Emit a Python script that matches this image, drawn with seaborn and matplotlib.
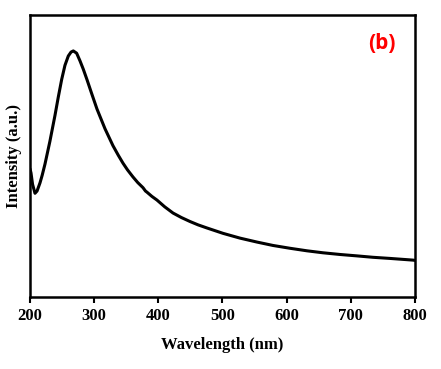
import numpy as np
import pandas as pd
import matplotlib
matplotlib.use("Agg")
import matplotlib.pyplot as plt
import seaborn as sns

# absorbance spectrum (arbitrary units)
wavelength = [200, 201.6, 204, 207.8, 211, 215.6, 219, 223.4, 231, 239, 244, 249.4,
              254.5, 259.7, 264, 267.5, 272.7, 277.9, 283.1, 289, 296.1, 304.4, 316.9,
              329.3, 337.6, 344.9, 352, 360.5, 368, 376.1, 380, 382.3, 390, 397.9,
              410, 422.9, 436, 449.3, 462, 475.8, 500.8, 527.3, 553.8, 578.7, 605.2,
              631.7, 656.6, 683.1, 709.6, 734.5, 761, 796.9, 800]
intensity = [0.455, 0.440, 0.400, 0.368, 0.376, 0.405, 0.432, 0.472, 0.552, 0.645, 0.708, 0.772,
             0.822, 0.855, 0.869, 0.873, 0.865, 0.838, 0.808, 0.770, 0.722, 0.667, 0.597,
             0.537, 0.503, 0.475, 0.451, 0.426, 0.406, 0.388, 0.376, 0.372, 0.357, 0.344,
             0.320, 0.298, 0.282, 0.268, 0.256, 0.245, 0.226, 0.209, 0.195, 0.183, 0.173,
             0.164, 0.157, 0.151, 0.146, 0.141, 0.137, 0.131, 0.130]
x_ticks = [200, 300, 400, 500, 600, 700, 800]

df = pd.DataFrame({"wavelength": wavelength, "intensity": intensity})

sns.set_style("ticks")
plt.rcParams["font.family"] = ["Liberation Serif", "DejaVu Serif"]

fig = plt.figure(figsize=(4.41, 3.69), dpi=100)
ax = fig.add_axes([0.068, 0.195, 0.873, 0.764])

sns.lineplot(data=df, x="wavelength", y="intensity", ax=ax, color="black", linewidth=2.2)

ax.set_xlim(200, 800)
ax.set_ylim(0, 1)
ax.set_xticks(x_ticks)
ax.set_yticks([])
ax.tick_params(axis="x", direction="out", length=4, width=1.5, labelsize=12,
               pad=4, color="black", labelcolor="black")
for lbl in ax.get_xticklabels():
    lbl.set_fontweight("bold")
for sp in ax.spines.values():
    sp.set_linewidth(1.8)
    sp.set_color("black")
    sp.set_visible(True)

ax.set_xlabel("Wavelength (nm)", fontsize=12, fontweight="bold", labelpad=9, color="black")
ax.set_ylabel("Intensity (a.u.)", fontsize=12, fontweight="bold", labelpad=6, color="black")

ax.text(0.915, 0.9, "(b)", transform=ax.transAxes, color="red", fontsize=15,
        fontweight="bold", family=["Open Sans", "DejaVu Sans"], ha="center", va="center")

fig.savefig("out.png", dpi=100)
